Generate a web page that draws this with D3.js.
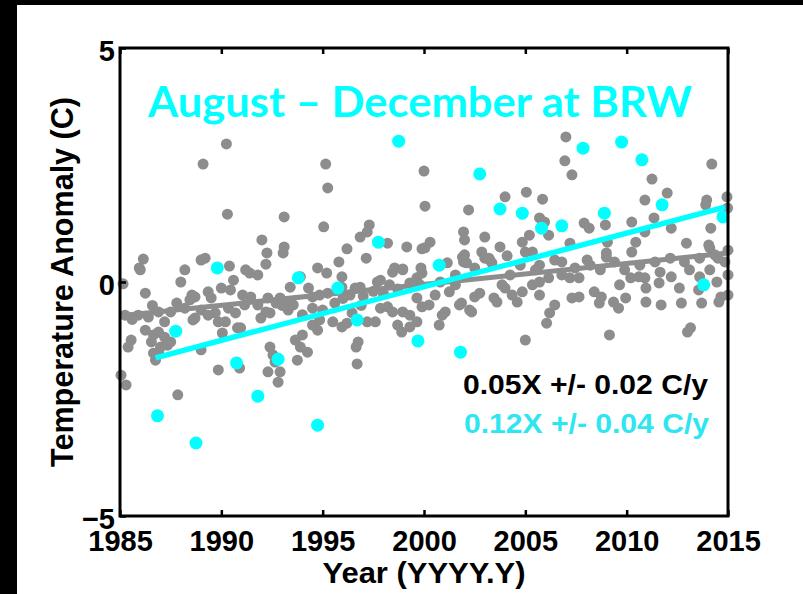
<!DOCTYPE html>
<html>
<head>
<meta charset="utf-8">
<script src="https://cdn.jsdelivr.net/npm/d3@7"></script>
<style>
  body { margin: 0; background: #000; }
  svg { display: block; }
</style>
</head>
<body>
<div id="area"></div>
<script>
// monthly anomalies (gray) as [year, anomaly C]
const grayPoints = [
  [1990.25,2.95],[1989.1,2.52],[1990.3,1.45],[1992.0,0.90],[1992.25,0.62],[1992.2,0.38],[1986.15,0.49],[1985.95,0.30],
  [1985.15,-0.04],[1986.25,-0.24],[1989.0,0.47],[1989.2,0.51],[1990.4,0.34],[1988.2,0.26],[1988.0,0.0],[1991.2,0.26],
  [1991.8,0.15],[1991.4,0.19],[1990.6,0.04],[1990.0,-0.13],[1990.45,-0.17],[1989.35,-0.21],[1989.5,-0.34],[1988.7,-0.32],
  [1988.45,-0.38],[1988.55,-0.28],[1991.05,-0.28],[1991.45,-0.32],[1992.3,-0.34],[1993.1,1.39],[1993.1,0.75],[1993.05,0.62],
  [1995.15,2.52],[1995.25,2.01],[1995.05,1.18],[1997.3,1.22],[1997.2,1.07],[1996.85,0.96],[1998.2,0.83],[1999.15,0.75],
  [1999.9,0.71],[2000.0,2.37],[2000.05,1.62],[1996.2,0.71],[1997.15,0.51],[1995.8,0.43],[1994.75,0.30],[1998.55,0.30],
  [1998.95,0.28],[1997.7,0.0],[1993.4,-0.11],[1993.9,0.11],[1994.3,-0.13],[1995.95,-0.11],[1996.85,-0.11],[1995.2,0.19],
  [1995.95,0.11],[1994.5,-0.32],[1992.9,-0.34],[1993.25,-0.43],[1993.55,-0.49],[1994.85,-0.28],[1995.25,-0.24],[1996.35,-0.28],
  [1996.6,-0.13],[1997.85,0.04],[1998.45,0.21],[1998.3,-0.06],[1999.3,-0.02],[1999.65,0.09],[1999.9,0.19],[1999.85,0.30],
  [2007.0,3.10],[2006.95,2.59],[2007.3,2.29],[2002.2,1.54],[2004.0,1.82],[2005.05,1.92],[2005.85,1.77],[2001.95,1.07],
  [2002.0,0.90],[2003.0,0.96],[2004.85,0.85],[2005.2,1.00],[2005.7,1.37],[2005.95,1.28],[2006.15,1.00],[2003.75,0.75],
  [2004.1,0.56],[2002.85,0.64],[2003.2,0.51],[2003.35,0.41],[2002.0,0.58],[2001.95,0.43],[2000.3,0.85],[2000.05,0.73],
  [2007.2,0.83],[2005.0,0.64],[2005.35,0.64],[2005.7,0.36],[2006.45,0.47],[2006.8,0.43],[2001.15,0.41],[1998.95,0.26],
  [2014.2,2.52],[2011.25,2.20],[2012.0,1.90],[2010.9,1.75],[2013.95,1.75],[2013.9,1.65],[2014.95,1.82],[2014.98,1.58],
  [2011.35,1.37],[2010.25,1.28],[2007.9,1.26],[2008.15,1.15],[2008.95,1.22],[2010.9,1.07],[2012.2,1.15],[2014.15,1.15],
  [2009.05,0.85],[2010.45,0.85],[2010.25,0.64],[2012.95,0.83],[2014.05,0.79],[2014.1,0.73],[2009.0,0.62],[2008.05,0.47],
  [2009.0,0.53],[2014.5,0.51],[2001.9,0.53],[2002.1,0.41],[2003.0,0.51],[2003.25,0.47],
  [1986.0,0.26],[1985.25,-0.71],[1985.9,-0.71],[1986.4,-0.75],[1986.9,-0.64],[1987.5,-0.64],[1988.2,-0.56],[1989.0,-0.60],
  [1989.7,-0.66],[1990.35,-0.56],[1991.15,-0.49],[1991.8,-0.49],[1992.2,-0.64],[1988.7,-0.77],[1989.35,-0.71],[1989.85,-0.85],
  [1990.2,-0.85],[1990.7,-0.66],[1990.8,-0.98],[1991.95,-0.77],[1985.55,-1.24],[1985.4,-1.39],[1986.25,-1.03],[1986.55,-1.28],
  [1986.65,-1.13],[1986.9,-1.07],[1987.2,-1.18],[1987.35,-1.35],[1987.5,-1.28],[1987.0,-1.39],[1986.9,-1.50],[1986.65,-1.52],
  [1986.75,-1.67],[1989.0,-1.45],[1990.05,-1.09],[1990.95,-0.98],[1989.85,-1.88],[1990.9,-1.84],[1992.3,-1.92],[1992.4,-1.39],
  [1985.05,-1.99],[1985.3,-2.20],[1987.85,-2.41],[1988.6,-0.81],[1992.55,-1.56],[1992.65,-1.71],[1992.9,-1.92],[1992.8,-2.14],
  [1992.4,-0.66],[1994.5,-0.56],[1994.5,-0.92],[1994.75,-1.03],[1994.85,-0.81],[1995.5,-0.85],[1995.95,-0.96],[1996.2,-0.88],
  [1996.45,-0.66],[1997.2,-0.85],[1997.6,-0.85],[1997.85,-0.56],[1998.2,-0.53],[1998.45,-0.64],[1998.95,-0.64],[1999.3,-0.71],
  [1999.65,-0.34],[1999.9,-0.53],[1998.7,-0.92],[1998.9,-1.07],[1999.3,-0.96],[1999.65,-0.85],[1993.65,-1.24],[1994.0,-1.13],
  [1993.9,-1.39],[1994.25,-1.50],[1996.75,-1.28],[1996.65,-1.39],[1996.7,-1.75],[1993.75,-1.67],
  [2000.55,-0.28],[2000.25,-0.49],[2000.9,-0.71],[2001.05,-0.64],[2000.75,-0.92],[2001.25,-0.21],[2001.55,-0.06],[2002.35,-0.64],
  [2001.75,-0.49],[2002.5,-0.32],[2002.75,-0.24],[2003.45,-0.34],[2003.85,-0.06],[2004.0,-0.13],[2004.35,-0.28],[2004.6,-0.43],
  [2004.85,-0.21],[2005.35,-0.06],[2005.7,0.0],[2005.7,-0.28],[2006.15,0.09],[2006.8,0.15],[2007.2,0.09],[2006.45,-0.49],
  [2006.2,-0.66],[2006.05,-0.88],[2007.3,-0.34],[2005.0,-1.24],[2007.65,0.09],[2007.65,-0.32],[2008.4,-0.21],[2008.65,-0.45],
  [2008.75,-0.32],[2009.35,-0.43],[2009.6,-0.56],[2009.95,-0.34],[2010.2,0.09],[2010.6,0.11],[2010.95,-0.13],[2011.6,-0.02],
  [2012.2,0.11],[2010.95,-0.43],[2011.7,-0.49],[2012.6,-0.13],[2012.7,-0.45],[2013.7,-0.45],[2013.55,-0.17],[2014.45,0.0],
  [2014.65,-0.32],[2014.55,-0.43],[2013.15,-0.98],[2013.0,-1.07],[2009.15,-1.13],[2001.85,-0.45],[2002.25,-0.60],[2003.6,-0.43],
  [1999.8,-0.06],[2000.8,0.0],[2001.55,0.15],[2002.5,0.30],[2004.25,0.15],[2004.75,0.36],[2005.5,0.26],[2007.45,0.30],
  [2008.2,0.36],[2008.7,0.26],[2009.4,0.43],[2009.9,0.26],[2010.65,0.36],[2011.4,0.43],[2012.15,0.51],[2012.85,0.43],
  [2013.6,0.51],[2014.35,0.58],[2014.85,0.43],[2011.65,0.21],[2013.1,0.26],[2014.1,0.26],[2009.65,-0.06],[2010.9,0.09],
  [2013.6,0.11],[2015.0,0.68],[2015.0,0.15],[2015.0,-0.28],
  [1992.7,-0.45],[1993.0,-0.5],[1995.6,-0.45],[1996.0,-0.35],[1997.0,-0.3],[1997.5,-0.2],[1998.0,-0.25],[1998.7,-0.15],
  [1993.3,-0.6],[1994.0,-0.7],[1995.0,-0.6],[1996.9,-0.5],[1985.6,-0.8],[1986.6,-0.5],[1987.8,-0.45],[1987.2,-0.85]
];

// August-December means (cyan)
const cyanYears = [1986.85, 1987.75, 1988.75, 1989.8, 1990.75, 1991.8, 1992.8, 1993.8, 1994.75, 1995.75,
  1996.7, 1997.75, 1998.75, 1999.7, 2000.75, 2001.8, 2002.75, 2003.75, 2004.85, 2005.8,
  2006.8, 2007.85, 2008.9, 2009.75, 2010.75, 2011.75, 2013.8, 2014.75];
const cyanValues = [-2.86, -1.05, -3.44, 0.30, -1.73, -2.44, -1.65, 0.09, -3.06, -0.13,
  -0.81, 0.85, 3.01, -1.26, 0.36, -1.50, 2.31, 1.56, 1.47, 1.15,
  1.20, 2.86, 1.47, 2.99, 2.61, 1.65, -0.06, 1.39];

// fitted trend lines, end points
const grayTrend = [[1985, -0.72], [2015, 0.62]];
const cyanTrend = [[1986.75, -1.62], [2014.85, 1.60]];

const xTicks = [1985, 1990, 1995, 2000, 2005, 2010, 2015];
const yTicks = [-5, 0, 5];

const title = "August \u2013 December at BRW";
const fitLabels = ["0.05X +/- 0.02 C/y", "0.12X +/- 0.04 C/y"];

const width = 803;
const height = 594;
const margin = { top: 48, right: 75, bottom: 78, left: 120 };
const gray = "#8d8d8d";
const cyan = "#00ffff";
const font = "'Liberation Sans', Arial, sans-serif";

const x = d3.scaleLinear()
  .domain([1985, 2015])
  .range([margin.left, width - margin.right]);

const y = d3.scaleLinear()
  .domain([-5, 5])
  .range([height - margin.bottom, margin.top]);

const svg = d3.select("#area")
  .append("svg")
  .attr("width", width)
  .attr("height", height);

// white page on black
svg.append("rect")
  .attr("x", 17).attr("y", 5)
  .attr("width", width - 17).attr("height", height - 5)
  .attr("fill", "#fff");

const line = d3.line()
  .x((d) => x(d[0]))
  .y((d) => y(d[1]));

// gray monthly points
svg.append("g")
  .selectAll("circle")
  .data(grayPoints)
  .join("circle")
  .attr("cx", (d) => x(d[0]))
  .attr("cy", (d) => y(d[1]))
  .attr("r", 5.5)
  .attr("fill", gray);

svg.append("path")
  .attr("fill", "none")
  .attr("stroke", gray)
  .attr("stroke-width", 5)
  .attr("d", line(grayTrend));

// cyan seasonal points
svg.append("g")
  .selectAll("circle")
  .data(cyanYears.map((yr, i) => [yr, cyanValues[i]]))
  .join("circle")
  .attr("cx", (d) => x(d[0]))
  .attr("cy", (d) => y(d[1]))
  .attr("r", 6.5)
  .attr("fill", cyan);

svg.append("path")
  .attr("fill", "none")
  .attr("stroke", cyan)
  .attr("stroke-width", 5.5)
  .attr("d", line(cyanTrend));

// axes (ticks inside)
const bottomAxis = svg.append("g")
  .attr("transform", `translate(0, ${height - margin.bottom})`)
  .call(d3.axisBottom(x).tickValues(xTicks).tickSizeInner(-6).tickSizeOuter(0).tickPadding(14).tickFormat(d3.format("d")));

const topAxis = svg.append("g")
  .attr("transform", `translate(0, ${margin.top})`)
  .call(d3.axisTop(x).tickValues(xTicks).tickSizeInner(-6).tickSizeOuter(0).tickFormat(""));

const leftAxis = svg.append("g")
  .attr("transform", `translate(${margin.left}, 0)`)
  .call(d3.axisLeft(y).tickValues(yTicks).tickSizeInner(-6).tickSizeOuter(0).tickPadding(5));

[bottomAxis, topAxis, leftAxis].forEach((g) => {
  g.select(".domain").remove();
  g.selectAll(".tick line").attr("stroke", "#000").attr("stroke-width", 2.5);
  g.selectAll("text")
    .attr("fill", "#000")
    .style("font-family", font)
    .style("font-weight", "bold")
    .style("font-size", "29px");
});
leftAxis.selectAll("text").attr("dy", "0.42em");

// frame
svg.append("rect")
  .attr("x", margin.left)
  .attr("y", margin.top)
  .attr("width", width - margin.left - margin.right)
  .attr("height", height - margin.top - margin.bottom)
  .attr("fill", "none")
  .attr("stroke", "#000")
  .attr("stroke-width", 3);

// title
svg.append("text")
  .attr("x", 148)
  .attr("y", 117)
  .attr("textLength", 544)
  .attr("lengthAdjust", "spacingAndGlyphs")
  .attr("fill", cyan)
  .style("font-family", "Lato, 'Open Sans', sans-serif")
  .style("font-weight", "bold")
  .style("font-size", "42px")
  .text(title);

// fit labels
svg.append("text")
  .attr("x", 463)
  .attr("y", 394)
  .attr("textLength", 245)
  .attr("lengthAdjust", "spacingAndGlyphs")
  .attr("fill", "#000")
  .style("font-family", font)
  .style("font-weight", "bold")
  .style("font-size", "28px")
  .text(fitLabels[0]);

svg.append("text")
  .attr("x", 464)
  .attr("y", 433)
  .attr("textLength", 245)
  .attr("lengthAdjust", "spacingAndGlyphs")
  .attr("fill", "#2ee6f0")
  .style("font-family", font)
  .style("font-weight", "bold")
  .style("font-size", "28px")
  .text(fitLabels[1]);

// axis titles
svg.append("text")
  .attr("transform", "translate(73, 282) rotate(-90)")
  .attr("text-anchor", "middle")
  .attr("textLength", 370)
  .attr("lengthAdjust", "spacingAndGlyphs")
  .attr("fill", "#000")
  .style("font-family", font)
  .style("font-weight", "bold")
  .style("font-size", "31px")
  .text("Temperature Anomaly (C)");

svg.append("text")
  .attr("x", 424)
  .attr("y", 583)
  .attr("text-anchor", "middle")
  .attr("textLength", 203)
  .attr("lengthAdjust", "spacingAndGlyphs")
  .attr("fill", "#000")
  .style("font-family", font)
  .style("font-weight", "bold")
  .style("font-size", "30px")
  .text("Year (YYYY.Y)");
</script>
</body>
</html>
